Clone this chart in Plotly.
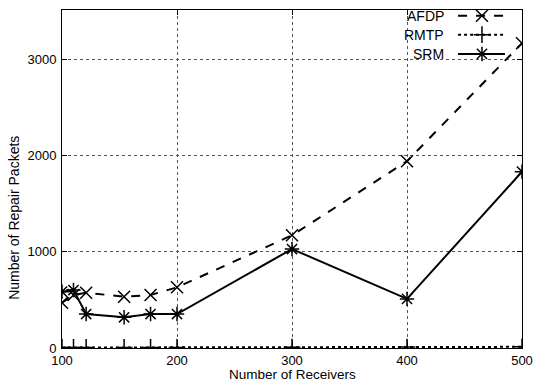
import plotly.graph_objects as go

receivers = [100, 110, 121, 154, 177, 200, 300, 400, 500]
afdp = [470, 550, 574, 533, 550, 630, 1170, 1940, 3165]
rmtp = [5, 5, 5, 5, 5, 5, 8, 10, 12]
srm = [585, 602, 353, 319, 353, 353, 1028, 510, 1831]

x_ticks = [100, 200, 300, 400, 500]
y_ticks = [0, 1000, 2000, 3000]

series = [
    ("AFDP", afdp, "dash", "x-thin-open"),
    ("RMTP", rmtp, "dot", "cross-thin-open"),
    ("SRM", srm, "solid", "asterisk-open"),
]

FONT = "Liberation Sans, Arial"

fig = go.Figure()
for name, vals, dash, sym in series:
    fig.add_trace(go.Scatter(
        x=receivers, y=vals, mode="lines+markers", name=name,
        line=dict(color="black", width=2, dash=dash),
        marker=dict(symbol=sym, size=12, color="black",
                    line=dict(color="black", width=1.5)),
        showlegend=False,
    ))

# gnuplot-style legend (text right, sample to the right) on an overlay axis
leg_y = [0.983, 0.927, 0.870]
for (name, vals, dash, sym), ly in zip(series, leg_y):
    fig.add_trace(go.Scatter(
        x=[0.861, 0.913, 0.963], y=[ly, ly, ly], mode="lines",
        line=dict(color="black", width=2, dash=dash),
        xaxis="x2", yaxis="y2", showlegend=False, hoverinfo="skip",
    ))
    fig.add_trace(go.Scatter(
        x=[0.913], y=[ly], mode="markers",
        marker=dict(symbol=sym, size=12, color="black",
                    line=dict(color="black", width=1.5)),
        xaxis="x2", yaxis="y2", showlegend=False, hoverinfo="skip",
    ))
    fig.add_annotation(x=0.834, y=ly, xref="paper", yref="paper",
                       text=name, showarrow=False, xanchor="right",
                       yanchor="middle",
                       font=dict(family=FONT, size=14, color="black"))

# axis titles placed like the original
fig.add_annotation(x=-48 / 460, y=0.385, xref="paper", yref="paper",
                   text="Number of Repair Packets", showarrow=False,
                   textangle=-90, xanchor="center", yanchor="middle",
                   font=dict(family=FONT, size=14, color="black"))
fig.add_annotation(x=0.5, y=-0.077, xref="paper", yref="paper",
                   text="Number of Receivers", showarrow=False,
                   xanchor="center", yanchor="middle", borderpad=0,
                   font=dict(family=FONT, size=13.5, color="black"))

axis_common = dict(
    showline=True, linecolor="black", linewidth=1, mirror="allticks",
    ticks="inside", ticklen=5, tickcolor="black",
    showgrid=True, gridcolor="#555555", griddash="dot", gridwidth=1,
    zeroline=False, automargin=False,
    tickfont=dict(family=FONT, size=13, color="black"),
)

fig.update_layout(
    width=534, height=383,
    margin=dict(l=62, r=12, t=10, b=35),
    paper_bgcolor="white", plot_bgcolor="white",
    xaxis=dict(range=[100, 500], tickvals=x_ticks, ticklabelstandoff=0,
               **axis_common),
    yaxis=dict(range=[0, 3510], tickvals=y_ticks, ticklabelstandoff=2,
               **axis_common),
    xaxis2=dict(range=[0, 1], overlaying="x", visible=False, fixedrange=True),
    yaxis2=dict(range=[0, 1], overlaying="y", visible=False, fixedrange=True),
)

fig.write_html("out.html")
